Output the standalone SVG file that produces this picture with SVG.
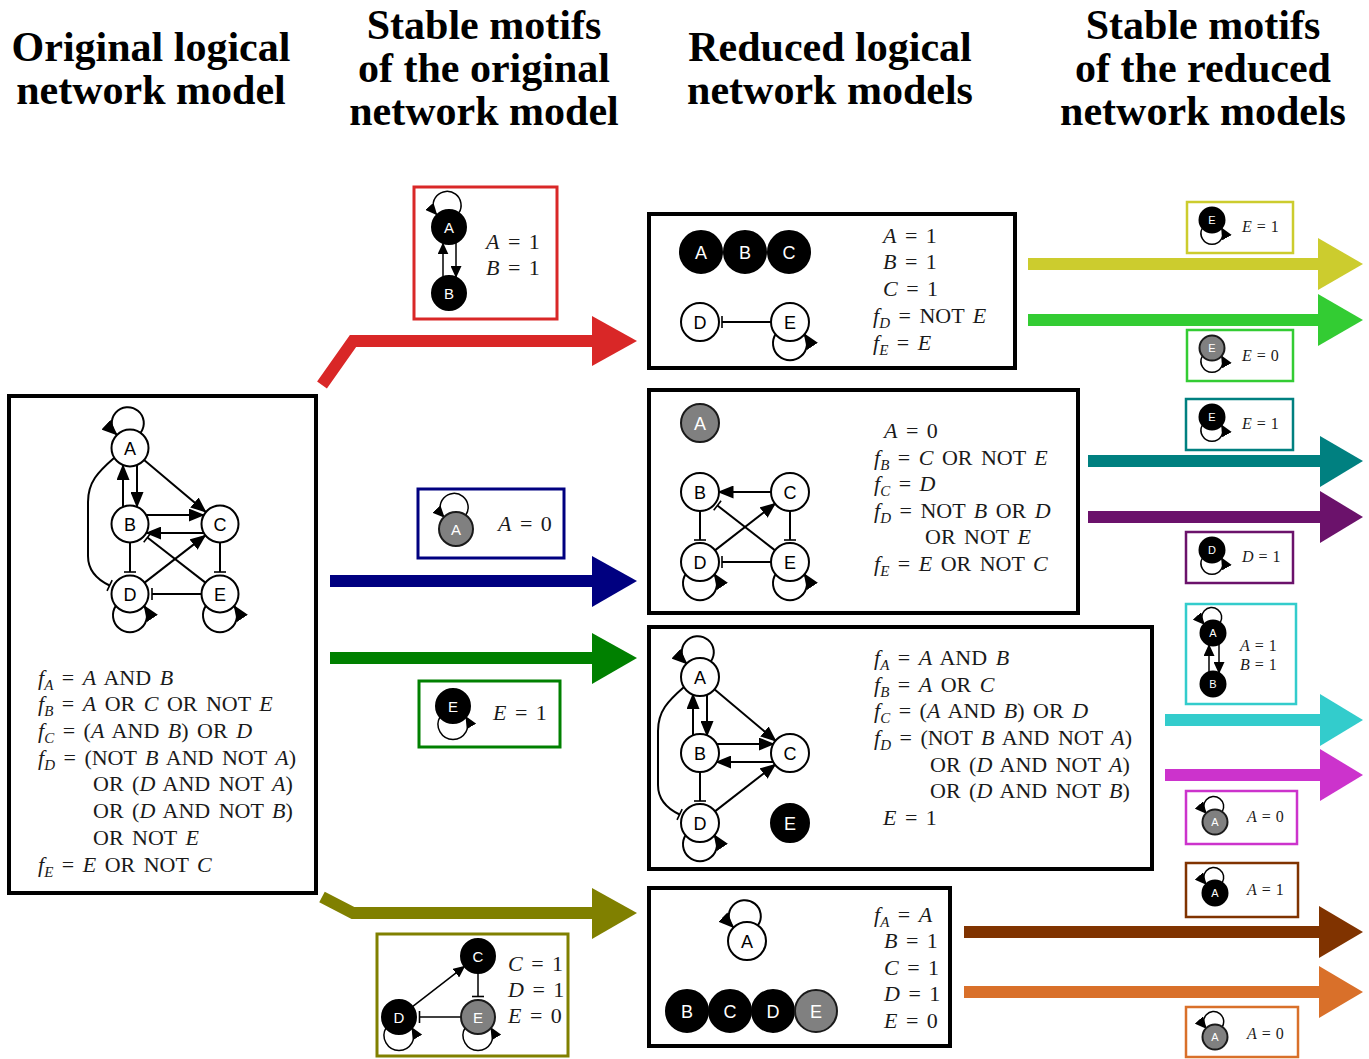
<svg xmlns="http://www.w3.org/2000/svg" width="1369" height="1059" viewBox="0 0 1369 1059">
<defs>
<style>
.title{font-family:"Liberation Serif","Times New Roman",serif;font-weight:bold;font-size:42px;text-anchor:middle;fill:#000}
.eq{font-family:"Liberation Serif","Times New Roman",serif;font-size:22px;fill:#1a1a1a;word-spacing:3px}
.eqs{font-family:"Liberation Serif","Times New Roman",serif;font-size:16px;fill:#1a1a1a;word-spacing:1px}
.v{font-style:italic}
.sb{font-style:italic;font-size:15px}
.nl{font-family:"Liberation Sans",Arial,sans-serif;font-size:18px;text-anchor:middle;fill:#000}
.nm{font-family:"Liberation Sans",Arial,sans-serif;font-size:15px;text-anchor:middle;fill:#fff}
.ns{font-family:"Liberation Sans",Arial,sans-serif;font-size:11px;text-anchor:middle;fill:#fff}
.lw{fill:#fff}
.w{fill:#fff;stroke:#000;stroke-width:2}
.k{fill:#000;stroke:#000;stroke-width:2}
.g{fill:#808080;stroke:#1a1a1a;stroke-width:2}
.e{fill:none;stroke:#000;stroke-width:2}
.es{fill:none;stroke:#000;stroke-width:1.5}
.box{fill:none;stroke:#000;stroke-width:4}
.mb{fill:#fff;stroke-width:3}
.sbx{fill:#fff;stroke-width:2.5}
</style>
<marker id="ah" viewBox="0 0 16 13" refX="15" refY="6.5" markerWidth="16" markerHeight="13" markerUnits="userSpaceOnUse" orient="auto"><path d="M0,0L16,6.5L0,13z" fill="#000"/></marker>
<marker id="ahs" viewBox="0 0 12 11" refX="11" refY="5.5" markerWidth="12" markerHeight="11" markerUnits="userSpaceOnUse" orient="auto"><path d="M0,0L12,5.5L0,11z" fill="#000"/></marker>
<marker id="tee" viewBox="-1.5 -7 3 14" refX="0" refY="0" markerWidth="3" markerHeight="14" markerUnits="userSpaceOnUse" orient="auto"><path d="M0,-6V6" stroke="#000" stroke-width="1.6"/></marker>
</defs>

<rect x="0" y="0" width="1369" height="1059" fill="#fff"/>

<!-- Titles -->
<g id="titles">
<text class="title" x="151" y="61">Original logical</text>
<text class="title" x="151" y="104">network model</text>
<text class="title" x="484" y="39">Stable motifs</text>
<text class="title" x="484" y="82">of the original</text>
<text class="title" x="484" y="125">network model</text>
<text class="title" x="830" y="61">Reduced logical</text>
<text class="title" x="830" y="104">network models</text>
<text class="title" x="1203" y="39">Stable motifs</text>
<text class="title" x="1203" y="82">of the reduced</text>
<text class="title" x="1203" y="125">network models</text>
</g>

<!-- Big coloured arrows -->
<g id="connectors">
<polyline points="322,385 353,341 596,341" fill="none" stroke="#d92727" stroke-width="12"/>
<polygon points="592,316 637,341 592,366" fill="#d92727"/>
<line x1="330" y1="581" x2="596" y2="581" stroke="#000080" stroke-width="12"/>
<polygon points="592,556 637,581 592,607" fill="#000080"/>
<line x1="330" y1="658" x2="596" y2="658" stroke="#008000" stroke-width="12"/>
<polygon points="592,633 637,658 592,684" fill="#008000"/>
<polyline points="322,897 353,913 596,913" fill="none" stroke="#808000" stroke-width="12"/>
<polygon points="592,888 637,913 592,939" fill="#808000"/>

<line x1="1028" y1="264" x2="1320" y2="264" stroke="#cccc2e" stroke-width="12"/>
<polygon points="1318,238 1363,264 1318,290" fill="#cccc2e"/>
<line x1="1028" y1="320" x2="1320" y2="320" stroke="#33cc33" stroke-width="12"/>
<polygon points="1318,294 1363,320 1318,346" fill="#33cc33"/>
<line x1="1088" y1="461" x2="1322" y2="461" stroke="#008080" stroke-width="12"/>
<polygon points="1320,436 1363,461 1320,487" fill="#008080"/>
<line x1="1088" y1="517" x2="1322" y2="517" stroke="#6b126b" stroke-width="12"/>
<polygon points="1320,491 1363,517 1320,543" fill="#6b126b"/>
<line x1="1165" y1="720" x2="1322" y2="720" stroke="#33cccc" stroke-width="12"/>
<polygon points="1320,694 1363,720 1320,746" fill="#33cccc"/>
<line x1="1165" y1="775" x2="1322" y2="775" stroke="#cc33cc" stroke-width="12"/>
<polygon points="1320,749 1363,775 1320,801" fill="#cc33cc"/>
<line x1="964" y1="932" x2="1321" y2="932" stroke="#803300" stroke-width="12"/>
<polygon points="1319,906 1363,932 1319,958" fill="#803300"/>
<line x1="964" y1="992" x2="1321" y2="992" stroke="#d9702a" stroke-width="12"/>
<polygon points="1319,966 1363,992 1319,1018" fill="#d9702a"/>
</g>

<!-- Original network -->
<g id="original-model">
<rect class="box" x="9" y="396" width="307" height="497" fill="#fff"/>
<g id="orig-edges">
<path class="e" d="M140.6,432.8 A16,16 0 1 0 116.9,434.9" marker-end="url(#ah)"/>
<path class="e" d="M123,507 L123,465" marker-end="url(#ah)"/>
<path class="e" d="M137,465 L137,507" marker-end="url(#ah)"/>
<path class="e" d="M144.1,459.9 L205.9,512.1" marker-end="url(#ah)"/>
<path class="e" d="M146.2,515 L203.8,515" marker-end="url(#ah)"/>
<path class="e" d="M203.8,533 L146.2,533" marker-end="url(#ah)"/>
<path class="e" d="M130,542.5 L130,572" marker-end="url(#tee)"/>
<path class="e" d="M220,542.5 L220,572" marker-end="url(#tee)"/>
<path class="e" d="M144.6,582.6 L205.4,535.4" marker-end="url(#ah)"/>
<path class="e" d="M205.4,582.6 L147.4,537.5" marker-end="url(#tee)"/>
<path class="e" d="M201.5,594 L152,594" marker-end="url(#tee)"/>
<path class="e" d="M114,458 C98,472 88,482 88,502 L88,556 C88,572 98,580 109.6,585.5" marker-end="url(#tee)"/>
<path class="e" d="M115.8,605.9 A17,17 0 1 0 144.2,605.9" marker-end="url(#ah)"/>
<path class="e" d="M205.8,605.9 A17,17 0 1 0 234.2,605.9" marker-end="url(#ah)"/>
</g>
<g id="orig-A"><circle class="w" cx="130" cy="448" r="18.5"/><text class="nl" x="130" y="454.5">A</text></g>
<g id="orig-B"><circle class="w" cx="130" cy="524" r="18.5"/><text class="nl" x="130" y="530.5">B</text></g>
<g id="orig-C"><circle class="w" cx="220" cy="524" r="18.5"/><text class="nl" x="220" y="530.5">C</text></g>
<g id="orig-D"><circle class="w" cx="130" cy="594" r="18.5"/><text class="nl" x="130" y="600.5">D</text></g>
<g id="orig-E"><circle class="w" cx="220" cy="594" r="18.5"/><text class="nl" x="220" y="600.5">E</text></g>
<g id="orig-eqs">
<text class="eq" x="38" y="685"><tspan class="v">f</tspan><tspan class="sb" dy="5">A</tspan><tspan dy="-5"> = </tspan><tspan class="v">A</tspan> AND <tspan class="v">B</tspan></text>
<text class="eq" x="38" y="711"><tspan class="v">f</tspan><tspan class="sb" dy="5">B</tspan><tspan dy="-5"> = </tspan><tspan class="v">A</tspan> OR <tspan class="v">C</tspan> OR NOT <tspan class="v">E</tspan></text>
<text class="eq" x="38" y="738"><tspan class="v">f</tspan><tspan class="sb" dy="5">C</tspan><tspan dy="-5"> = (</tspan><tspan class="v">A</tspan> AND <tspan class="v">B</tspan>) OR <tspan class="v">D</tspan></text>
<text class="eq" x="38" y="765"><tspan class="v">f</tspan><tspan class="sb" dy="5">D</tspan><tspan dy="-5"> = (NOT </tspan><tspan class="v">B</tspan> AND NOT <tspan class="v">A</tspan>)</text>
<text class="eq" x="93" y="791">OR (<tspan class="v">D</tspan> AND NOT <tspan class="v">A</tspan>)</text>
<text class="eq" x="93" y="818">OR (<tspan class="v">D</tspan> AND NOT <tspan class="v">B</tspan>)</text>
<text class="eq" x="93" y="845">OR NOT <tspan class="v">E</tspan></text>
<text class="eq" x="38" y="872"><tspan class="v">f</tspan><tspan class="sb" dy="5">E</tspan><tspan dy="-5"> = </tspan><tspan class="v">E</tspan> OR NOT <tspan class="v">C</tspan></text>
</g>
</g>

<!-- Stable motifs of original -->
<g id="motif-red">
<rect class="mb" x="414" y="187" width="143" height="132" stroke="#d92727"/>
<path class="es" d="M459,212.7 A14,14 0 1 0 436.6,214.6" marker-end="url(#ahs)"/>
<path class="es" d="M443,276.6 L443,243.4" marker-end="url(#ahs)"/>
<path class="es" d="M456,243 L456,277" marker-end="url(#ahs)"/>
<g id="red-A"><circle class="k" cx="449" cy="227" r="17"/><text class="nm" x="449" y="232.5">A</text></g>
<g id="red-B"><circle class="k" cx="449" cy="293" r="17"/><text class="nm" x="449" y="298.5">B</text></g>
<text class="eq" x="486" y="249"><tspan class="v">A</tspan> = 1</text>
<text class="eq" x="486" y="275"><tspan class="v">B</tspan> = 1</text>
</g>

<g id="motif-navy">
<rect class="mb" x="418" y="489" width="146" height="69" stroke="#000080"/>
<path class="es" d="M465.8,515.1 A14,14 0 1 0 444,517" marker-end="url(#ahs)"/>
<g id="navy-A"><circle class="g" cx="456" cy="529" r="17"/><text class="nm" x="456" y="534.5">A</text></g>
<text class="eq" x="498" y="531"><tspan class="v">A</tspan> = 0</text>
</g>

<g id="motif-green">
<rect class="mb" x="419" y="681" width="141" height="66" stroke="#008000"/>
<path class="es" d="M440,716.9 A15,15 0 1 0 466,716.9" marker-end="url(#ahs)"/>
<g id="green-E"><circle class="k" cx="453" cy="706" r="17"/><text class="nm" x="453" y="711.5">E</text></g>
<text class="eq" x="493" y="720"><tspan class="v">E</tspan> = 1</text>
</g>

<g id="motif-olive">
<rect class="mb" x="377" y="934" width="191" height="122" stroke="#808000"/>
<path class="es" d="M412.5,1006.6 L464.5,966.4" marker-end="url(#ahs)"/>
<path class="es" d="M478,973 L478,996.5" marker-end="url(#tee)"/>
<path class="es" d="M461,1017 L419.5,1017" marker-end="url(#tee)"/>
<path class="es" d="M386,1027.9 A15,15 0 1 0 412,1027.9" marker-end="url(#ahs)"/>
<path class="es" d="M465,1027.9 A15,15 0 1 0 491,1027.9" marker-end="url(#ahs)"/>
<g id="olive-C"><circle class="k" cx="478" cy="956" r="17"/><text class="nm" x="478" y="961.5">C</text></g>
<g id="olive-D"><circle class="k" cx="399" cy="1017" r="17"/><text class="nm" x="399" y="1022.5">D</text></g>
<g id="olive-E"><circle class="g" cx="478" cy="1017" r="17"/><text class="nm" x="478" y="1022.5">E</text></g>
<text class="eq" x="508" y="971"><tspan class="v">C</tspan> = 1</text>
<text class="eq" x="508" y="997"><tspan class="v">D</tspan> = 1</text>
<text class="eq" x="508" y="1023"><tspan class="v">E</tspan> = 0</text>
</g>

<!-- Reduced model 1 -->
<g id="reduced-1">
<rect class="box" x="649" y="214" width="366" height="154" fill="#fff"/>
<g id="r1-A"><circle class="k" cx="701" cy="252" r="21"/><text class="nl lw" x="701" y="258.5">A</text></g>
<g id="r1-B"><circle class="k" cx="745" cy="252" r="21"/><text class="nl lw" x="745" y="258.5">B</text></g>
<g id="r1-C"><circle class="k" cx="789" cy="252" r="21"/><text class="nl lw" x="789" y="258.5">C</text></g>
<g transform="translate(570,-272)">
<path class="e" d="M201.5,594 L152,594" marker-end="url(#tee)"/>
<path class="e" d="M205.8,605.9 A17,17 0 1 0 234.2,605.9" marker-end="url(#ah)"/>
<g id="r1-D"><circle class="w" cx="130" cy="594" r="19"/><text class="nl" x="130" y="600.5">D</text></g>
<g id="r1-E"><circle class="w" cx="220" cy="594" r="19"/><text class="nl" x="220" y="600.5">E</text></g>
</g>
<text class="eq" x="883" y="243"><tspan class="v">A</tspan> = 1</text>
<text class="eq" x="883" y="269"><tspan class="v">B</tspan> = 1</text>
<text class="eq" x="883" y="296"><tspan class="v">C</tspan> = 1</text>
<text class="eq" x="873" y="323"><tspan class="v">f</tspan><tspan class="sb" dy="5">D</tspan><tspan dy="-5"> = NOT </tspan><tspan class="v">E</tspan></text>
<text class="eq" x="873" y="350"><tspan class="v">f</tspan><tspan class="sb" dy="5">E</tspan><tspan dy="-5"> = </tspan><tspan class="v">E</tspan></text>
</g>

<!-- Reduced model 2 -->
<g id="reduced-2">
<rect class="box" x="649" y="390" width="429" height="223" fill="#fff"/>
<g id="r2-A"><circle class="g" cx="700" cy="423" r="19"/><text class="nl lw" x="700" y="429.5">A</text></g>
<g transform="translate(570,-32)">
<path class="e" d="M201.5,524 L148.5,524" marker-end="url(#ah)"/>
<path class="e" d="M130,542.5 L130,572" marker-end="url(#tee)"/>
<path class="e" d="M220,542.5 L220,572" marker-end="url(#tee)"/>
<path class="e" d="M144.6,582.6 L205.4,535.4" marker-end="url(#ah)"/>
<path class="e" d="M205.4,582.6 L147.4,537.5" marker-end="url(#tee)"/>
<path class="e" d="M201.5,594 L152,594" marker-end="url(#tee)"/>
<path class="e" d="M115.8,605.9 A17,17 0 1 0 144.2,605.9" marker-end="url(#ah)"/>
<path class="e" d="M205.8,605.9 A17,17 0 1 0 234.2,605.9" marker-end="url(#ah)"/>
<g id="r2-B"><circle class="w" cx="130" cy="524" r="19"/><text class="nl" x="130" y="530.5">B</text></g>
<g id="r2-C"><circle class="w" cx="220" cy="524" r="19"/><text class="nl" x="220" y="530.5">C</text></g>
<g id="r2-D"><circle class="w" cx="130" cy="594" r="19"/><text class="nl" x="130" y="600.5">D</text></g>
<g id="r2-E"><circle class="w" cx="220" cy="594" r="19"/><text class="nl" x="220" y="600.5">E</text></g>
</g>
<text class="eq" x="884" y="438"><tspan class="v">A</tspan> = 0</text>
<text class="eq" x="874" y="465"><tspan class="v">f</tspan><tspan class="sb" dy="5">B</tspan><tspan dy="-5"> = </tspan><tspan class="v">C</tspan> OR NOT <tspan class="v">E</tspan></text>
<text class="eq" x="874" y="491"><tspan class="v">f</tspan><tspan class="sb" dy="5">C</tspan><tspan dy="-5"> = </tspan><tspan class="v">D</tspan></text>
<text class="eq" x="874" y="518"><tspan class="v">f</tspan><tspan class="sb" dy="5">D</tspan><tspan dy="-5"> = NOT </tspan><tspan class="v">B</tspan> OR <tspan class="v">D</tspan></text>
<text class="eq" x="925" y="544">OR NOT <tspan class="v">E</tspan></text>
<text class="eq" x="874" y="571"><tspan class="v">f</tspan><tspan class="sb" dy="5">E</tspan><tspan dy="-5"> = </tspan><tspan class="v">E</tspan> OR NOT <tspan class="v">C</tspan></text>
</g>

<!-- Reduced model 3 -->
<g id="reduced-3">
<rect class="box" x="649" y="627" width="503" height="242" fill="#fff"/>
<g transform="translate(570,229)">
<path class="e" d="M140.6,432.8 A16,16 0 1 0 116.9,434.9" marker-end="url(#ah)"/>
<path class="e" d="M123,507 L123,465" marker-end="url(#ah)"/>
<path class="e" d="M137,465 L137,507" marker-end="url(#ah)"/>
<path class="e" d="M144.1,459.9 L205.9,512.1" marker-end="url(#ah)"/>
<path class="e" d="M146.2,515 L203.8,515" marker-end="url(#ah)"/>
<path class="e" d="M203.8,533 L146.2,533" marker-end="url(#ah)"/>
<path class="e" d="M130,542.5 L130,572" marker-end="url(#tee)"/>
<path class="e" d="M144.6,582.6 L205.4,535.4" marker-end="url(#ah)"/>
<path class="e" d="M114,458 C98,472 88,482 88,502 L88,556 C88,572 98,580 109.6,585.5" marker-end="url(#tee)"/>
<path class="e" d="M115.8,605.9 A17,17 0 1 0 144.2,605.9" marker-end="url(#ah)"/>
<g id="r3-A"><circle class="w" cx="130" cy="448" r="19"/><text class="nl" x="130" y="454.5">A</text></g>
<g id="r3-B"><circle class="w" cx="130" cy="524" r="19"/><text class="nl" x="130" y="530.5">B</text></g>
<g id="r3-C"><circle class="w" cx="220" cy="524" r="19"/><text class="nl" x="220" y="530.5">C</text></g>
<g id="r3-D"><circle class="w" cx="130" cy="594" r="19"/><text class="nl" x="130" y="600.5">D</text></g>
<g id="r3-E"><circle class="k" cx="220" cy="594" r="19"/><text class="nl lw" x="220" y="600.5">E</text></g>
</g>
<text class="eq" x="874" y="665"><tspan class="v">f</tspan><tspan class="sb" dy="5">A</tspan><tspan dy="-5"> = </tspan><tspan class="v">A</tspan> AND <tspan class="v">B</tspan></text>
<text class="eq" x="874" y="692"><tspan class="v">f</tspan><tspan class="sb" dy="5">B</tspan><tspan dy="-5"> = </tspan><tspan class="v">A</tspan> OR <tspan class="v">C</tspan></text>
<text class="eq" x="874" y="718"><tspan class="v">f</tspan><tspan class="sb" dy="5">C</tspan><tspan dy="-5"> = (</tspan><tspan class="v">A</tspan> AND <tspan class="v">B</tspan>) OR <tspan class="v">D</tspan></text>
<text class="eq" x="874" y="745"><tspan class="v">f</tspan><tspan class="sb" dy="5">D</tspan><tspan dy="-5"> = (NOT </tspan><tspan class="v">B</tspan> AND NOT <tspan class="v">A</tspan>)</text>
<text class="eq" x="930" y="772">OR (<tspan class="v">D</tspan> AND NOT <tspan class="v">A</tspan>)</text>
<text class="eq" x="930" y="798">OR (<tspan class="v">D</tspan> AND NOT <tspan class="v">B</tspan>)</text>
<text class="eq" x="883" y="825"><tspan class="v">E</tspan> = 1</text>
</g>

<!-- Reduced model 4 -->
<g id="reduced-4">
<rect class="box" x="649" y="888" width="301" height="158" fill="#fff"/>
<path class="e" d="M757.9,925.4 A16,16 0 1 0 733.6,927.6" marker-end="url(#ah)"/>
<g id="r4-A"><circle class="w" cx="747" cy="941" r="19"/><text class="nl" x="747" y="947.5">A</text></g>
<g id="r4-B"><circle class="k" cx="687" cy="1011" r="21"/><text class="nl lw" x="687" y="1017.5">B</text></g>
<g id="r4-C"><circle class="k" cx="730" cy="1011" r="21"/><text class="nl lw" x="730" y="1017.5">C</text></g>
<g id="r4-D"><circle class="k" cx="773" cy="1011" r="21"/><text class="nl lw" x="773" y="1017.5">D</text></g>
<g id="r4-E"><circle class="g" cx="816" cy="1011" r="21"/><text class="nl lw" x="816" y="1017.5">E</text></g>
<text class="eq" x="874" y="922"><tspan class="v">f</tspan><tspan class="sb" dy="5">A</tspan><tspan dy="-5"> = </tspan><tspan class="v">A</tspan></text>
<text class="eq" x="884" y="948"><tspan class="v">B</tspan> = 1</text>
<text class="eq" x="884" y="975"><tspan class="v">C</tspan> = 1</text>
<text class="eq" x="884" y="1001"><tspan class="v">D</tspan> = 1</text>
<text class="eq" x="884" y="1028"><tspan class="v">E</tspan> = 0</text>
</g>

<!-- Stable motifs of reduced models -->
<g id="motif-yellow">
<rect class="sbx" x="1187" y="202" width="106" height="51" stroke="#cccc2e"/>
<path class="es" d="M1202.4,228 A11,11 0 1 0 1221.6,228" marker-end="url(#ahs)"/>
<g id="y-E"><circle class="k" cx="1212" cy="220" r="12.5"/><text class="ns" x="1212" y="224">E</text></g>
<text class="eqs" x="1242" y="232"><tspan class="v">E</tspan> = 1</text>
</g>
<g id="motif-lime">
<rect class="sbx" x="1187" y="330" width="106" height="51" stroke="#33cc33"/>
<path class="es" d="M1202.4,356 A11,11 0 1 0 1221.6,356" marker-end="url(#ahs)"/>
<g id="l-E"><circle class="g" cx="1212" cy="348" r="12.5"/><text class="ns" x="1212" y="352">E</text></g>
<text class="eqs" x="1242" y="361"><tspan class="v">E</tspan> = 0</text>
</g>
<g id="motif-teal">
<rect class="sbx" x="1186" y="399" width="107" height="51" stroke="#008080"/>
<path class="es" d="M1202.4,425 A11,11 0 1 0 1221.6,425" marker-end="url(#ahs)"/>
<g id="t-E"><circle class="k" cx="1212" cy="417" r="12.5"/><text class="ns" x="1212" y="421">E</text></g>
<text class="eqs" x="1242" y="429"><tspan class="v">E</tspan> = 1</text>
</g>
<g id="motif-purple">
<rect class="sbx" x="1186" y="532" width="107" height="51" stroke="#6b126b"/>
<path class="es" d="M1202.4,558 A11,11 0 1 0 1221.6,558" marker-end="url(#ahs)"/>
<g id="p-D"><circle class="k" cx="1212" cy="550" r="12.5"/><text class="ns" x="1212" y="554">D</text></g>
<text class="eqs" x="1242" y="562"><tspan class="v">D</tspan> = 1</text>
</g>
<g id="motif-cyan">
<rect class="sbx" x="1186" y="604" width="110" height="100" stroke="#33cccc"/>
<path class="es" d="M1220.2,622.8 A10,10 0 1 0 1204.2,624.2" marker-end="url(#ahs)"/>
<path class="es" d="M1209,672 L1209,645" marker-end="url(#ahs)"/>
<path class="es" d="M1219,644 L1219,673" marker-end="url(#ahs)"/>
<g id="c-A"><circle class="k" cx="1213" cy="633" r="12.5"/><text class="ns" x="1213" y="637">A</text></g>
<g id="c-B"><circle class="k" cx="1213" cy="684" r="12.5"/><text class="ns" x="1213" y="688">B</text></g>
<text class="eqs" x="1240" y="651"><tspan class="v">A</tspan> = 1</text>
<text class="eqs" x="1240" y="670"><tspan class="v">B</tspan> = 1</text>
</g>
<g id="motif-magenta">
<rect class="sbx" x="1186" y="791" width="111" height="53" stroke="#cc33cc"/>
<path class="es" d="M1222.2,811.8 A10,10 0 1 0 1206.2,813.2" marker-end="url(#ahs)"/>
<g id="m-A"><circle class="g" cx="1215" cy="822" r="12.5"/><text class="ns" x="1215" y="826">A</text></g>
<text class="eqs" x="1247" y="822"><tspan class="v">A</tspan> = 0</text>
</g>
<g id="motif-brown">
<rect class="sbx" x="1186" y="863" width="112" height="54" stroke="#803300"/>
<path class="es" d="M1222.2,882.8 A10,10 0 1 0 1206.2,884.2" marker-end="url(#ahs)"/>
<g id="b-A"><circle class="k" cx="1215" cy="893" r="12.5"/><text class="ns" x="1215" y="897">A</text></g>
<text class="eqs" x="1247" y="895"><tspan class="v">A</tspan> = 1</text>
</g>
<g id="motif-orange">
<rect class="sbx" x="1186" y="1007" width="112" height="50" stroke="#d9702a"/>
<path class="es" d="M1222.2,1026.8 A10,10 0 1 0 1206.2,1028.2" marker-end="url(#ahs)"/>
<g id="o-A"><circle class="g" cx="1215" cy="1037" r="12.5"/><text class="ns" x="1215" y="1041">A</text></g>
<text class="eqs" x="1247" y="1039"><tspan class="v">A</tspan> = 0</text>
</g>
</svg>
